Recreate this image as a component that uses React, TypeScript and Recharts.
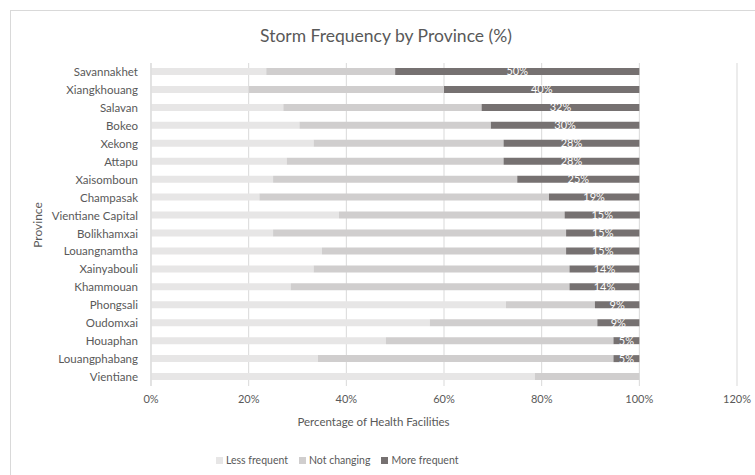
import React from "react";
import {
  BarChart,
  Bar,
  XAxis,
  YAxis,
  CartesianGrid,
  LabelList,
} from "recharts";

// provinces, top to bottom
const provinces = [
  "Savannakhet",
  "Xiangkhouang",
  "Salavan",
  "Bokeo",
  "Xekong",
  "Attapu",
  "Xaisomboun",
  "Champasak",
  "Vientiane Capital",
  "Bolikhamxai",
  "Louangnamtha",
  "Xainyabouli",
  "Khammouan",
  "Phongsali",
  "Oudomxai",
  "Houaphan",
  "Louangphabang",
  "Vientiane",
];

const lessFrequent = [23.6, 20, 27.1, 30.4, 33.3, 27.8, 25, 22.2, 38.5, 25, 35, 33.3, 28.6, 72.7, 57.1, 48.1, 34.2, 78.6];
const notChanging = [26.4, 40, 40.6, 39.2, 38.9, 44.4, 50, 59.3, 46.2, 60, 50, 52.4, 57.1, 18.2, 34.3, 46.6, 60.5, 21.4];
const moreFrequent = [50, 40, 32.3, 30.4, 27.8, 27.8, 25, 18.5, 15.4, 15, 15, 14.3, 14.3, 9.1, 8.6, 5.3, 5.3, 0];

const xTicks = [0, 20, 40, 60, 80, 100, 120];

const COLORS = {
  less: "#e7e6e6",
  notChanging: "#d0cece",
  more: "#767171",
};

const FONT = "Lato, 'Open Sans', sans-serif";
const TEXT = "#595959";

const data = provinces.map((name, i) => ({
  name,
  less: lessFrequent[i],
  notChanging: notChanging[i],
  more: moreFrequent[i],
}));

const legendItems = [
  { label: "Less frequent", color: COLORS.less },
  { label: "Not changing", color: COLORS.notChanging },
  { label: "More frequent", color: COLORS.more },
];

export default function App() {
  return (
    <div
      style={{
        position: "absolute",
        left: 0,
        top: 0,
        width: 755,
        height: 475,
        background: "#fff",
        overflow: "hidden",
        fontFamily: FONT,
      }}
    >
      {/* chart area border, runs off the right and bottom edges */}
      <div
        style={{
          position: "absolute",
          left: 10,
          top: 10,
          width: 800,
          height: 500,
          border: "1px solid #d9d9d9",
        }}
      />
      <div
        style={{
          position: "absolute",
          left: 0,
          top: 25,
          width: 772,
          textAlign: "center",
          fontSize: 17.5,
          color: TEXT,
        }}
      >
        Storm Frequency by Province (%)
      </div>
      <div
        style={{
          position: "absolute",
          left: 0,
          top: 415,
          width: 747,
          textAlign: "center",
          fontSize: 11.5,
          color: TEXT,
        }}
      >
        Percentage of Health Facilities
      </div>
      <div
        style={{
          position: "absolute",
          left: 37,
          top: 225,
          transform: "translate(-50%, -50%) rotate(-90deg)",
          fontSize: 12,
          color: TEXT,
          whiteSpace: "nowrap",
        }}
      >
        Province
      </div>
      <div
        style={{
          position: "absolute",
          left: 216,
          top: 454,
          display: "flex",
          gap: 11,
          fontSize: 10.5,
          color: TEXT,
          whiteSpace: "nowrap",
        }}
      >
        {legendItems.map((it) => (
          <div key={it.label} style={{ display: "flex", alignItems: "center", gap: 3 }}>
            <span style={{ width: 7, height: 7, background: it.color, display: "inline-block" }} />
            <span>{it.label}</span>
          </div>
        ))}
      </div>
      <BarChart
        width={755}
        height={475}
        data={data}
        layout="vertical"
        barSize={7}
        margin={{ top: 63, right: 18, bottom: 59, left: 31 }}
        style={{ position: "absolute", left: 0, top: 0 }}
      >
        <CartesianGrid horizontal={false} stroke="#d9d9d9" />
        <XAxis
          type="number"
          domain={[0, 120]}
          ticks={xTicks}
          tickFormatter={(v) => `${v}%`}
          axisLine={false}
          tickLine={false}
          tickMargin={3}
          height={30}
          tick={{ fontSize: 11, fill: TEXT, fontFamily: FONT }}
        />
        <YAxis
          type="category"
          dataKey="name"
          width={120}
          axisLine={{ stroke: "#d9d9d9" }}
          tickLine={false}
          tickSize={0}
          tickMargin={13}
          interval={0}
          tick={{ fontSize: 11.5, fill: TEXT, fontFamily: FONT }}
        />
        <Bar dataKey="less" stackId="a" fill={COLORS.less} isAnimationActive={false} />
        <Bar dataKey="notChanging" stackId="a" fill={COLORS.notChanging} isAnimationActive={false} />
        <Bar dataKey="more" stackId="a" fill={COLORS.more} isAnimationActive={false}>
          <LabelList
            dataKey="more"
            position="center"
            formatter={(v: any) => `${Math.round(Number(v))}%`}
            style={{ fill: "#ffffff", fontSize: 11, fontFamily: FONT }}
          />
        </Bar>
      </BarChart>
    </div>
  );
}
